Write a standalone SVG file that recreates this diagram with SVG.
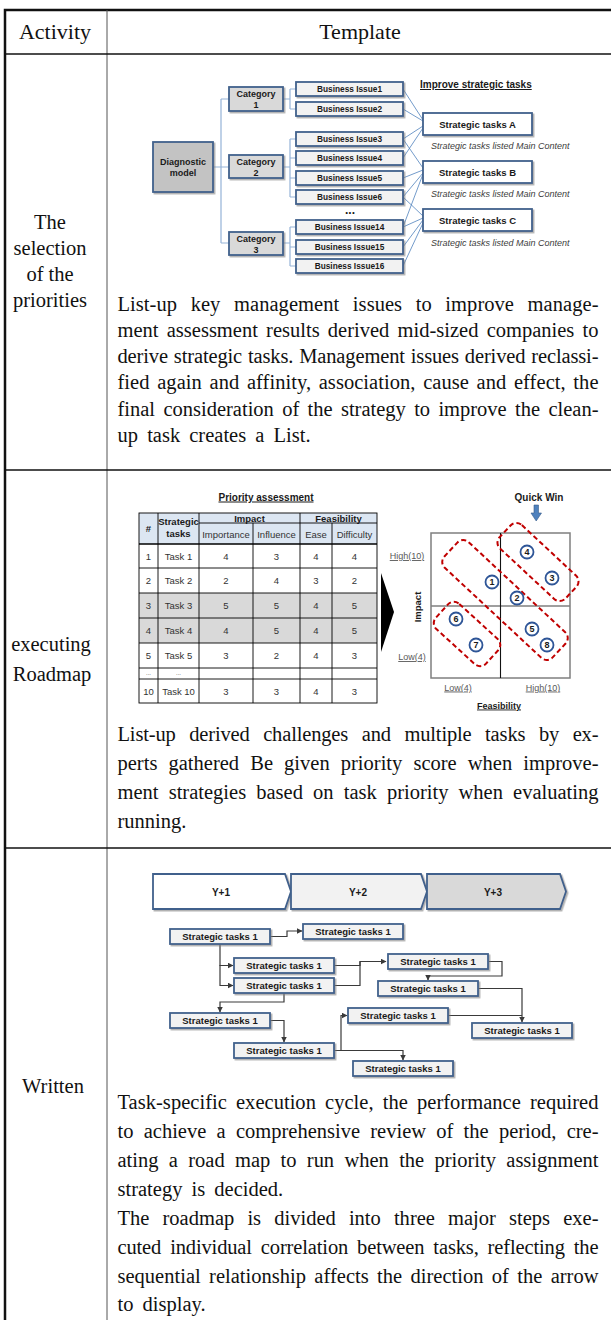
<svg xmlns="http://www.w3.org/2000/svg" width="611" height="1320" viewBox="0 0 611 1320">
<defs>
<style>
.body{font-family:"Liberation Serif","Times New Roman",serif;font-size:20.5px;fill:#111}
.lab{font-family:"Liberation Serif","Times New Roman",serif;font-size:20.5px;fill:#111;text-anchor:middle}
.hd{font-family:"Liberation Serif","Times New Roman",serif;font-size:22px;fill:#111;text-anchor:middle}
.sb{font-family:"Liberation Sans",Arial,sans-serif;font-weight:bold;fill:#1a1a1a;text-anchor:middle}
.sbl{font-family:"Liberation Sans",Arial,sans-serif;font-weight:bold;fill:#1a1a1a;text-anchor:start}
.sr{font-family:"Liberation Sans",Arial,sans-serif;fill:#333;text-anchor:middle}
.it{font-family:"Liberation Sans",Arial,sans-serif;font-style:italic;font-size:9px;fill:#404040}
.ax{font-family:"Liberation Sans",Arial,sans-serif;font-size:9px;fill:#595959;text-anchor:middle;text-decoration:underline}
.bx{stroke:#41618c;stroke-width:1.8}
.tree{fill:none;stroke:#95b3d7;stroke-width:1.2}
.link{fill:none;stroke:#4f81bd;stroke-width:0.8}
.conn{fill:none;stroke:#3a3a3a;stroke-width:1.2}
.grid{stroke:#000;stroke-width:0.9;fill:none}
.cir{fill:#fff;stroke:#2e5597;stroke-width:1.8}
.dash{fill:none;stroke:#c00000;stroke-width:2;stroke-dasharray:5 3}
.task{fill:#f2f2f2}
</style>
<filter id="sh" x="-10%" y="-20%" width="130%" height="170%"><feDropShadow dx="1.5" dy="1.5" stdDeviation="0.7" flood-color="#7f7f7f" flood-opacity="0.6"/></filter>
<marker id="ah" markerWidth="6" markerHeight="6" refX="5.5" refY="3" orient="auto" markerUnits="userSpaceOnUse"><path d="M0,0 L6,3 L0,6 z" fill="#3a3a3a"/></marker>
</defs>
<rect width="611" height="1320" fill="#fff"/>

<g id="frame">
<path d="M5,1320 V10 H611" fill="none" stroke="#111" stroke-width="2.5"/>
<line x1="107" y1="10" x2="107" y2="1320" stroke="#555" stroke-width="1"/>
<line x1="5" y1="54" x2="611" y2="54" stroke="#111" stroke-width="1.5"/>
<line x1="5" y1="470" x2="611" y2="470" stroke="#111" stroke-width="1.5"/>
<line x1="5" y1="848" x2="611" y2="848" stroke="#111" stroke-width="1.5"/>
<text class="hd" x="55" y="39">Activity</text>
<text class="hd" x="360" y="39">Template</text>
</g>

<g id="activity-labels">
<text class="lab" x="50" y="229">The</text>
<text class="lab" x="50" y="255">selection</text>
<text class="lab" x="50" y="281">of the</text>
<text class="lab" x="50" y="307">priorities</text>
<text class="lab" x="51" y="651">executing</text>
<text class="lab" x="52" y="681">Roadmap</text>
<text class="lab" x="53" y="1093">Written</text>
</g>

<!-- Row 1 diagram -->
<g id="tree-connectors">
<path class="tree" d="M213,167 H229 M221,99 V243 M221,99 H229 M221,243 H229"/>
<path class="tree" d="M283,99 H290 M290,89 V109 M290,89 H296 M290,109 H296"/>
<path class="tree" d="M283,167 H290 M290,139 V197 M290,139 H296 M290,158 H296 M290,178 H296 M290,197 H296"/>
<path class="tree" d="M283,243 H290 M290,227 V266 M290,227 H296 M290,247 H296 M290,266 H296"/>
<path class="link" d="M403,89 L423,120 M403,109 L423,121 M403,139 L423,126 M403,139 L423,168 M403,158 L423,128 M403,178 L423,170 M403,197 L423,173 M403,197 L423,216 M403,227 L423,174 M403,227 L423,218 M403,247 L423,220 M403,266 L423,223"/>
</g>

<g id="diagnostic">
<rect x="153" y="142" width="60" height="50" fill="#c3c3c3" class="bx" filter="url(#sh)"/>
<text class="sb" font-size="9" x="183" y="165">Diagnostic</text>
<text class="sb" font-size="9" x="183" y="176">model</text>
</g>
<g id="category1">
<rect x="229" y="87" width="54" height="24" fill="#d9d9d9" class="bx" filter="url(#sh)"/>
<text class="sb" font-size="9" x="256" y="97">Category</text>
<text class="sb" font-size="9" x="256" y="108">1</text>
</g>
<g id="category2">
<rect x="229" y="155" width="54" height="23" fill="#d9d9d9" class="bx" filter="url(#sh)"/>
<text class="sb" font-size="9" x="256" y="165">Category</text>
<text class="sb" font-size="9" x="256" y="176">2</text>
</g>
<g id="category3">
<rect x="229" y="232" width="54" height="23" fill="#d9d9d9" class="bx" filter="url(#sh)"/>
<text class="sb" font-size="9" x="256" y="242">Category</text>
<text class="sb" font-size="9" x="256" y="253">3</text>
</g>

<g id="issue1"><rect x="296" y="82" width="107" height="14" class="bx task" filter="url(#sh)"/><text class="sb" font-size="8.3" x="349.5" y="92">Business Issue1</text></g>
<g id="issue2"><rect x="296" y="102" width="107" height="14" class="bx task" filter="url(#sh)"/><text class="sb" font-size="8.3" x="349.5" y="112">Business Issue2</text></g>
<g id="issue3"><rect x="296" y="132" width="107" height="14" class="bx task" filter="url(#sh)"/><text class="sb" font-size="8.3" x="349.5" y="142">Business Issue3</text></g>
<g id="issue4"><rect x="296" y="151" width="107" height="14" class="bx task" filter="url(#sh)"/><text class="sb" font-size="8.3" x="349.5" y="161">Business Issue4</text></g>
<g id="issue5"><rect x="296" y="171" width="107" height="14" class="bx task" filter="url(#sh)"/><text class="sb" font-size="8.3" x="349.5" y="181">Business Issue5</text></g>
<g id="issue6"><rect x="296" y="190" width="107" height="14" class="bx task" filter="url(#sh)"/><text class="sb" font-size="8.3" x="349.5" y="200">Business Issue6</text></g>
<g id="ellipsis"><text class="sb" font-size="12" x="350" y="214">...</text></g>
<g id="issue14"><rect x="296" y="220" width="107" height="14" class="bx task" filter="url(#sh)"/><text class="sb" font-size="8.3" x="349.5" y="230">Business Issue14</text></g>
<g id="issue15"><rect x="296" y="240" width="107" height="14" class="bx task" filter="url(#sh)"/><text class="sb" font-size="8.3" x="349.5" y="250">Business Issue15</text></g>
<g id="issue16"><rect x="296" y="259" width="107" height="14" class="bx task" filter="url(#sh)"/><text class="sb" font-size="8.3" x="349.5" y="269">Business Issue16</text></g>

<g id="improve-title"><text class="sbl" font-size="10" x="420" y="88" text-decoration="underline">Improve strategic tasks</text></g>
<g id="taskA"><rect x="423" y="113" width="109" height="22" fill="#fff" class="bx" filter="url(#sh)"/><text class="sb" font-size="9.5" x="477.5" y="127.5">Strategic tasks A</text><text class="it" x="431" y="149">Strategic tasks listed Main Content</text></g>
<g id="taskB"><rect x="423" y="161" width="109" height="22" fill="#fff" class="bx" filter="url(#sh)"/><text class="sb" font-size="9.5" x="477.5" y="175.5">Strategic tasks B</text><text class="it" x="431" y="197">Strategic tasks listed Main Content</text></g>
<g id="taskC"><rect x="423" y="209" width="109" height="22" fill="#fff" class="bx" filter="url(#sh)"/><text class="sb" font-size="9.5" x="477.5" y="223.5">Strategic tasks C</text><text class="it" x="431" y="246">Strategic tasks listed Main Content</text></g>

<g id="text-row1">
<text class="body" x="117.5" y="311" word-spacing="8.4" textLength="481" lengthAdjust="spacing">List-up key management issues to improve manage-</text>
<text class="body" x="117.5" y="337" word-spacing="3.1" textLength="481" lengthAdjust="spacing">ment assessment results derived mid-sized companies to</text>
<text class="body" x="117.5" y="363" word-spacing="0.9" textLength="481" lengthAdjust="spacing">derive strategic tasks. Management issues derived reclassi-</text>
<text class="body" x="117.5" y="389" word-spacing="2.5" textLength="481" lengthAdjust="spacing">fied again and affinity, association, cause and effect, the</text>
<text class="body" x="117.5" y="416" word-spacing="3.2" textLength="481" lengthAdjust="spacing">final consideration of the strategy to improve the clean-</text>
<text class="body" x="117.5" y="442" word-spacing="4">up task creates a List.</text>
</g>

<!-- Row 2 -->
<g id="priority-table">
<text class="sb" font-size="10" x="266" y="500.5" text-decoration="underline">Priority assessment</text>
<rect x="139" y="513" width="238" height="31" fill="#dce6f2"/>
<rect x="139" y="593" width="238" height="50" fill="#d9d9d9"/>
<rect x="139" y="513" width="238" height="190" class="grid" stroke-width="1.2"/>
<path class="grid" d="M158,513 V703 M199,513 V703 M253,523 V703 M300,513 V703 M332,523 V703 M199,523 H377 M139,568 H377 M139,593 H377 M139,618 H377 M139,643 H377 M139,668 H377 M139,679 H377"/>
<line x1="139" y1="544" x2="377" y2="544" stroke="#000" stroke-width="1.5"/>
<text class="sb" font-size="9.5" x="148.5" y="532">#</text>
<text class="sb" font-size="9.5" x="178.5" y="525">Strategic</text>
<text class="sb" font-size="9.5" x="178.5" y="537">tasks</text>
<text class="sb" font-size="9.5" x="249.5" y="521.5">Impact</text>
<text class="sb" font-size="9.5" x="338.5" y="521.5">Feasibility</text>
<g class="sr" font-size="9.5">
<text x="226" y="537.5">Importance</text><text x="276.5" y="537.5">Influence</text><text x="316" y="537.5">Ease</text><text x="354.5" y="537.5">Difficulty</text>
<text x="148.5" y="559.5">1</text><text x="178.5" y="559.5">Task 1</text><text x="226" y="559.5">4</text><text x="276.5" y="559.5">3</text><text x="316" y="559.5">4</text><text x="354.5" y="559.5">4</text>
<text x="148.5" y="584">2</text><text x="178.5" y="584">Task 2</text><text x="226" y="584">2</text><text x="276.5" y="584">4</text><text x="316" y="584">3</text><text x="354.5" y="584">2</text>
<text x="148.5" y="609">3</text><text x="178.5" y="609">Task 3</text><text x="226" y="609">5</text><text x="276.5" y="609">5</text><text x="316" y="609">4</text><text x="354.5" y="609">5</text>
<text x="148.5" y="634">4</text><text x="178.5" y="634">Task 4</text><text x="226" y="634">4</text><text x="276.5" y="634">5</text><text x="316" y="634">4</text><text x="354.5" y="634">5</text>
<text x="148.5" y="659">5</text><text x="178.5" y="659">Task 5</text><text x="226" y="659">3</text><text x="276.5" y="659">2</text><text x="316" y="659">4</text><text x="354.5" y="659">3</text>
<text x="148.5" y="675" font-size="6">...</text><text x="178.5" y="675" font-size="6">...</text>
<text x="148.5" y="694.5">10</text><text x="178.5" y="694.5">Task 10</text><text x="226" y="694.5">3</text><text x="276.5" y="694.5">3</text><text x="316" y="694.5">4</text><text x="354.5" y="694.5">3</text>
</g>
</g>

<g id="big-arrow"><polygon points="381,573 394,612 381,652" fill="#000"/></g>

<g id="matrix">
<rect x="431" y="533" width="139" height="145" fill="none" stroke="#7f7f7f" stroke-width="1.5"/>
<line x1="431" y1="606" x2="570" y2="606" stroke="#7f7f7f" stroke-width="1.5"/>
<line x1="500.5" y1="533" x2="500.5" y2="678" stroke="#111" stroke-width="1.1"/>
<text class="sb" font-size="10" x="539" y="500.5">Quick Win</text>
<polygon points="534,505 538.5,505 538.5,513 541.5,513 536.2,521 531,513 534,513" fill="#4f81bd" stroke="#385d8a" stroke-width="0.6"/>
<text class="ax" x="407" y="559">High(10)</text>
<text class="ax" x="412" y="660">Low(4)</text>
<text class="sb" font-size="9.5" x="417" y="610.5" transform="rotate(-90 417 607)">Impact</text>
<text class="ax" x="458" y="690.5">Low(4)</text>
<text class="ax" x="543" y="690.5">High(10)</text>
<text class="sb" font-size="9" x="499" y="708.5" text-decoration="underline">Feasibility</text>
<rect class="dash" x="-45" y="-16" width="90" height="32" rx="8" transform="translate(538,562) rotate(43)"/>
<rect class="dash" x="-74" y="-17.5" width="148" height="35" rx="8" transform="translate(505,600) rotate(43)"/>
<rect class="dash" x="-34" y="-17" width="68" height="34" rx="8" transform="translate(467,634) rotate(42.4)"/>
<g class="sb" font-size="9">
<circle class="cir" cx="527" cy="552" r="6.5"/><text x="527" y="555.3">4</text>
<circle class="cir" cx="552" cy="578" r="6.5"/><text x="552" y="581.3">3</text>
<circle class="cir" cx="492" cy="582" r="6.5"/><text x="492" y="585.3">1</text>
<circle class="cir" cx="517" cy="598" r="6.5"/><text x="517" y="601.3">2</text>
<circle class="cir" cx="456" cy="619" r="6.5"/><text x="456" y="622.3">6</text>
<circle class="cir" cx="476" cy="645" r="6.5"/><text x="476" y="648.3">7</text>
<circle class="cir" cx="532" cy="629" r="6.5"/><text x="532" y="632.3">5</text>
<circle class="cir" cx="547" cy="645" r="6.5"/><text x="547" y="648.3">8</text>
</g>
</g>

<g id="text-row2">
<text class="body" x="117.5" y="741" word-spacing="8.6" textLength="481" lengthAdjust="spacing">List-up derived challenges and multiple tasks by ex-</text>
<text class="body" x="117.5" y="770" word-spacing="6" textLength="481" lengthAdjust="spacing">perts gathered Be given priority score when improve-</text>
<text class="body" x="117.5" y="799" word-spacing="5" textLength="481" lengthAdjust="spacing">ment strategies based on task priority when evaluating</text>
<text class="body" x="117.5" y="828">running.</text>
</g>

<!-- Row 3 roadmap -->
<g id="phase-y1"><polygon points="153,874 285,874 291,891.5 285,909 153,909" fill="#fff" class="bx" filter="url(#sh)"/><text class="sb" font-size="10" x="221" y="895.5">Y+1</text></g>
<g id="phase-y2"><polygon points="291,874 421,874 427,891.5 421,909 291,909" fill="#f2f2f2" class="bx" filter="url(#sh)"/><text class="sb" font-size="10" x="358" y="895.5">Y+2</text></g>
<g id="phase-y3"><polygon points="427,874 560,874 566,891.5 560,909 427,909" fill="#d9d9d9" class="bx" filter="url(#sh)"/><text class="sb" font-size="10" x="493" y="895.5">Y+3</text></g>

<g id="roadmap-connectors">
<path class="conn" d="M270,936.5 H287 V931 H302" marker-end="url(#ah)"/>
<path class="conn" d="M220,944 V965.5 H233" marker-end="url(#ah)"/>
<path class="conn" d="M220,965 V985.5 H233" marker-end="url(#ah)"/>
<path class="conn" d="M334,965.5 H360 V961.5 H386" marker-end="url(#ah)"/>
<path class="conn" d="M334,985.5 H360 V961.5"/>
<path class="conn" d="M489,961.5 H502 V976 H428 V980" marker-end="url(#ah)"/>
<path class="conn" d="M284,993 V1002 H220 V1012" marker-end="url(#ah)"/>
<path class="conn" d="M270,1020.5 H284 V1042" marker-end="url(#ah)"/>
<path class="conn" d="M334,1050.5 H341 V1015.5 H347" marker-end="url(#ah)"/>
<path class="conn" d="M334,1050.5 H403 V1060" marker-end="url(#ah)"/>
<path class="conn" d="M478,988.5 H522 V1022" marker-end="url(#ah)"/>
<path class="conn" d="M448,1015.5 H522"/>
</g>

<g id="rm-t1"><rect x="170" y="929" width="100" height="15" class="bx task" filter="url(#sh)"/><text class="sb" font-size="9.5" x="220" y="940">Strategic tasks 1</text></g>
<g id="rm-t2"><rect x="303" y="924" width="100" height="15" class="bx task" filter="url(#sh)"/><text class="sb" font-size="9.5" x="353" y="935">Strategic tasks 1</text></g>
<g id="rm-t3"><rect x="234" y="958" width="100" height="15" class="bx task" filter="url(#sh)"/><text class="sb" font-size="9.5" x="284" y="969">Strategic tasks 1</text></g>
<g id="rm-t4"><rect x="234" y="978" width="100" height="15" class="bx task" filter="url(#sh)"/><text class="sb" font-size="9.5" x="284" y="989">Strategic tasks 1</text></g>
<g id="rm-t5"><rect x="388" y="954" width="100" height="15" class="bx task" filter="url(#sh)"/><text class="sb" font-size="9.5" x="438" y="965">Strategic tasks 1</text></g>
<g id="rm-t6"><rect x="378" y="981" width="100" height="15" class="bx task" filter="url(#sh)"/><text class="sb" font-size="9.5" x="428" y="992">Strategic tasks 1</text></g>
<g id="rm-t7"><rect x="170" y="1013" width="100" height="15" class="bx task" filter="url(#sh)"/><text class="sb" font-size="9.5" x="220" y="1024">Strategic tasks 1</text></g>
<g id="rm-t8"><rect x="234" y="1043" width="100" height="15" class="bx task" filter="url(#sh)"/><text class="sb" font-size="9.5" x="284" y="1054">Strategic tasks 1</text></g>
<g id="rm-t9"><rect x="348" y="1008" width="100" height="15" class="bx task" filter="url(#sh)"/><text class="sb" font-size="9.5" x="398" y="1019">Strategic tasks 1</text></g>
<g id="rm-t10"><rect x="472" y="1023" width="100" height="15" class="bx task" filter="url(#sh)"/><text class="sb" font-size="9.5" x="522" y="1034">Strategic tasks 1</text></g>
<g id="rm-t11"><rect x="353" y="1061" width="100" height="15" class="bx task" filter="url(#sh)"/><text class="sb" font-size="9.5" x="403" y="1072">Strategic tasks 1</text></g>

<g id="text-row3">
<text class="body" x="117.5" y="1109" word-spacing="4" textLength="481" lengthAdjust="spacing">Task-specific execution cycle, the performance required</text>
<text class="body" x="117.5" y="1138" word-spacing="5.1" textLength="481" lengthAdjust="spacing">to achieve a comprehensive review of the period, cre-</text>
<text class="body" x="117.5" y="1167" word-spacing="5.2" textLength="481" lengthAdjust="spacing">ating a road map to run when the priority assignment</text>
<text class="body" x="117.5" y="1196" word-spacing="4">strategy is decided.</text>
<text class="body" x="117.5" y="1225" word-spacing="8" textLength="481" lengthAdjust="spacing">The roadmap is divided into three major steps exe-</text>
<text class="body" x="117.5" y="1254" word-spacing="4" textLength="481" lengthAdjust="spacing">cuted individual correlation between tasks, reflecting the</text>
<text class="body" x="117.5" y="1283" word-spacing="3.2" textLength="481" lengthAdjust="spacing">sequential relationship affects the direction of the arrow</text>
<text class="body" x="117.5" y="1311" word-spacing="4">to display.</text>
</g>
</svg>
